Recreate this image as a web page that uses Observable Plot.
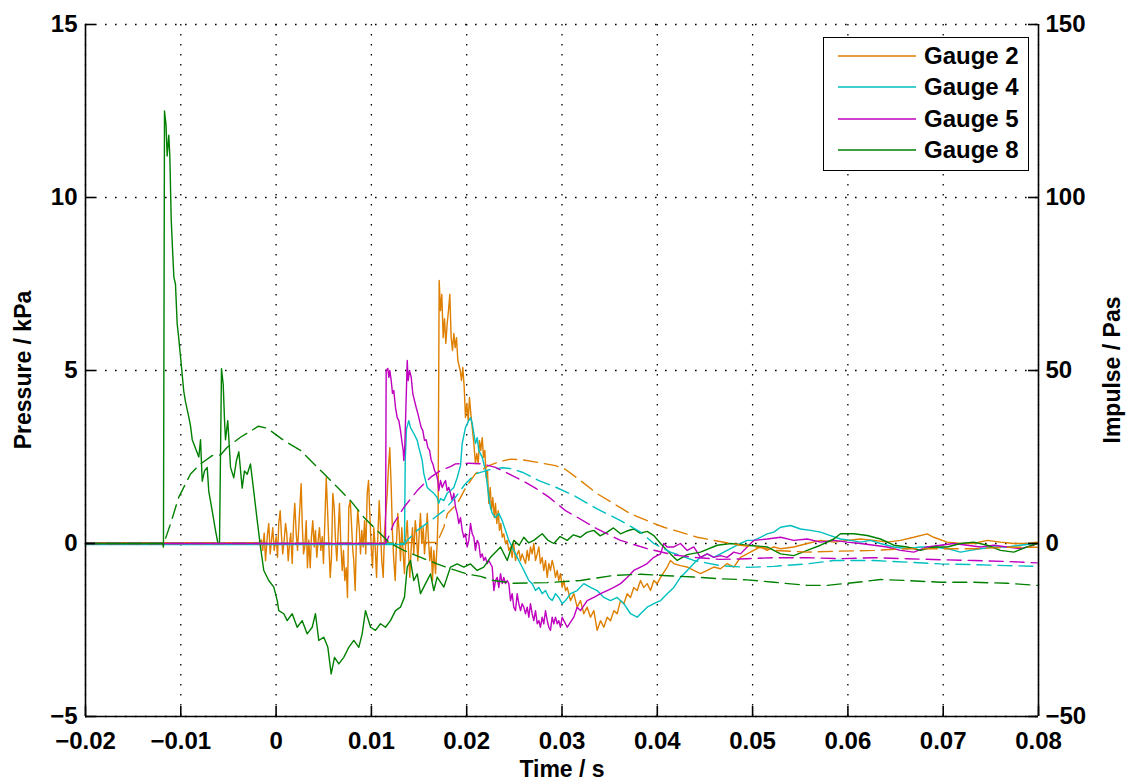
<!DOCTYPE html>
<html>
<head>
<meta charset="utf-8">
<script src="https://cdn.jsdelivr.net/npm/d3@7"></script>
<script src="https://cdn.jsdelivr.net/npm/@observablehq/plot@0.6"></script>
<style>
  body { margin: 0; background: #fff; }
  #wrap { position: relative; width: 1133px; height: 783px; font-family: "Liberation Sans", Arial, Helvetica, sans-serif; }
  #legend { position: absolute; left: 823px; top: 37px; width: 206px; height: 134px; border: 1.6px solid #000; background: #fff; box-sizing: border-box; }
  .lrow { position: absolute; left: 0; width: 100%; height: 30px; }
  .lrow svg { position: absolute; left: 14px; top: 0; }
  .lrow span { position: absolute; left: 100px; top: 1px; font-size: 24px; font-weight: bold; line-height: 28px; color: #000; white-space: nowrap; }
  .ytitle { position: absolute; font-size: 23px; font-weight: bold; line-height: 23px; white-space: nowrap; color: #000; transform: translate(-50%, -50%) rotate(-90deg); }
</style>
</head>
<body>
<div id="wrap"><div id="chart"></div><div id="legend"></div>
  <div class="ytitle" id="ltitle" style="left:23px; top:370px;"></div>
  <div class="ytitle" id="rtitle" style="left:1112px; top:370px;"></div>
</div>
<script>
// ---------- data ----------
const xTicks = [-0.02, -0.01, 0, 0.01, 0.02, 0.03, 0.04, 0.05, 0.06, 0.07, 0.08];
const pressureTicks = [-5, 0, 5, 10, 15];
const impulseTicks = [-50, 0, 50, 100, 150];
const seriesNames = ["Gauge 2", "Gauge 4", "Gauge 5", "Gauge 8"];
const seriesColors = ["#df7f00", "#00bfbf", "#bf00bf", "#008000"];
const xTitle = "Time / s";
const leftTitle = "Pressure / kPa";
const rightTitle = "Impulse / Pas";

// [time s, pressure kPa]
const gauge2Pressure = [[-0.02,0.02],[-0.00184,0.02],[-0.00153,0.1],[-0.0014,-0.2],[-0.00125,0.3],[-0.00111,-0.5],[-0.00093,0.2],[-0.00077,0.58],[-0.00062,-0.3],[-0.00048,0.1],[-0.00035,0.46],[-0.0002,-0.2],[0.00001,0.2],[0.00015,-0.4],[0.00028,0.58],[0.00043,0.95],[0.00057,0.2],[0.0007,-0.3],[0.00085,0.1],[0.00099,0.58],[0.00112,0.3],[0.00127,-0.5],[0.00141,0],[0.00154,0.3],[0.00169,-0.58],[0.00183,0.58],[0.00196,1.16],[0.00211,0.3],[0.00225,-0.2],[0.00238,0.46],[0.00253,1.24],[0.00263,1.73],[0.00274,0.58],[0.00288,-0.3],[0.00301,-0.1],[0.00316,0.66],[0.00329,-0.7],[0.00343,0.1],[0.00358,-0.7],[0.00371,0.2],[0.00385,0.66],[0.004,-0.1],[0.00413,0.38],[0.00427,-0.4],[0.00442,0.1],[0.00455,0.46],[0.00469,-0.2],[0.00484,0.2],[0.00497,-0.58],[0.00511,0.58],[0.00526,1.9],[0.00539,1.04],[0.00553,0],[0.00568,-0.98],[0.00581,-0.4],[0.00595,1.45],[0.0061,1.04],[0.00623,0.1],[0.00637,-0.5],[0.00652,0.38],[0.00665,1.16],[0.00679,0],[0.00694,-0.78],[0.00707,-0.2],[0.00721,-1.07],[0.00736,-0.7],[0.00749,-1.56],[0.00763,1.04],[0.00778,1.24],[0.00791,0.58],[0.00805,-0.2],[0.00815,-0.5],[0.0083,-1.36],[0.00844,0.3],[0.00857,0.95],[0.00872,0.46],[0.00886,-0.3],[0.00899,0.38],[0.00914,-0.1],[0.00928,0.66],[0.00941,-0.3],[0.00956,1.45],[0.0097,1.82],[0.00983,0.87],[0.00998,-0.1],[0.01012,-0.7],[0.01025,0.46],[0.0104,-0.1],[0.01054,-0.98],[0.01067,0.18],[0.01082,1.24],[0.01095,0.46],[0.01109,-0.5],[0.01124,-0.98],[0.01137,0.3],[0.01151,0.87],[0.01166,1.45],[0.01179,2.2],[0.01193,2.77],[0.01208,1.62],[0.01221,0.3],[0.01235,-0.5],[0.0125,-1.07],[0.01263,0],[0.01277,0.87],[0.01292,0.3],[0.01305,-0.5],[0.01319,0.46],[0.01334,-0.3],[0.01347,-0.87],[0.01361,0.18],[0.01376,0.66],[0.01389,-0.2],[0.01403,-0.98],[0.01418,-0.1],[0.01431,0.46],[0.01445,-0.3],[0.0146,0.66],[0.01473,0.3],[0.01487,-0.5],[0.01502,0.3],[0.01515,0.87],[0.01529,0],[0.01544,0.46],[0.01557,-0.3],[0.01571,0.18],[0.01586,0.87],[0.01599,0.1],[0.01613,-0.5],[0.01628,-0.1],[0.01641,-1.07],[0.01655,-0.2],[0.01673,-0.87],[0.0169,0],[0.017,0.87],[0.01711,7.6],[0.01725,6.73],[0.01739,7.2],[0.01753,5.95],[0.01767,6.5],[0.01781,5.78],[0.01795,6.35],[0.01809,6.73],[0.01823,7.2],[0.01837,5.95],[0.01851,5.58],[0.01865,6.07],[0.01879,5.66],[0.01893,5.95],[0.01907,5.29],[0.01932,5.0],[0.01945,4.71],[0.01959,5.09],[0.01974,4.5],[0.01987,3.64],[0.02001,4.05],[0.02016,3.55],[0.02029,4.22],[0.02043,3.76],[0.02058,3.35],[0.02075,2.89],[0.02092,2.31],[0.02106,2.6],[0.02121,2.31],[0.02134,2.98],[0.02148,2.69],[0.02163,3.06],[0.02176,2.49],[0.0219,2.69],[0.02205,1.9],[0.02218,2.11],[0.02232,1.16],[0.02247,1.62],[0.0226,0.95],[0.02274,1.33],[0.02289,0.75],[0.02302,1.16],[0.02316,0.58],[0.02331,0.95],[0.02344,0.38],[0.02358,0.58],[0.02373,0.18],[0.02389,0.28],[0.02407,0],[0.02425,0.09],[0.02442,-0.2],[0.0246,-0.1],[0.02477,-0.4],[0.02494,0],[0.02512,-0.49],[0.0253,-0.3],[0.02547,-0.2],[0.02565,-0.49],[0.02582,-0.3],[0.02617,-0.58],[0.02635,-0.2],[0.02652,-0.49],[0.02669,-0.1],[0.02687,-0.3],[0.02704,0],[0.02722,-0.49],[0.0274,-0.3],[0.02757,-0.1],[0.02774,-0.58],[0.02792,-0.4],[0.02809,-0.78],[0.02827,-0.49],[0.02845,-0.98],[0.02862,-0.58],[0.02879,-0.78],[0.02897,-0.49],[0.02914,-0.68],[0.02932,-0.98],[0.0295,-0.78],[0.02966,-1.07],[0.02984,-0.87],[0.03002,-1.27],[0.03019,-1.07],[0.03037,-1.36],[0.03055,-1.27],[0.03089,-1.65],[0.03124,-1.45],[0.03159,-1.84],[0.03194,-1.65],[0.03229,-2.03],[0.03264,-1.84],[0.03299,-2.13],[0.03334,-1.94],[0.03369,-2.51],[0.03404,-2.23],[0.03439,-2.42],[0.03474,-2.13],[0.03509,-2.23],[0.03544,-1.94],[0.03579,-2.03],[0.03614,-1.65],[0.03649,-1.74],[0.03684,-1.45],[0.03719,-1.56],[0.03753,-1.27],[0.03789,-1.36],[0.03824,-1.07],[0.03858,-1.27],[0.03894,-1.16],[0.03929,-1.36],[0.03963,-1.07],[0.03999,-1.16],[0.04034,-0.98],[0.04104,-0.68],[0.04138,-0.49],[0.04173,-0.58],[0.04243,-0.64],[0.04314,-0.68],[0.04383,-0.78],[0.04453,-0.87],[0.04524,-0.78],[0.04593,-0.68],[0.04663,-0.73],[0.04733,-0.58],[0.04803,-0.68],[0.04873,-0.4],[0.04943,-0.3],[0.05012,-0.2],[0.05083,-0.1],[0.05153,-0.2],[0.05222,-0.1],[0.05293,-0.15],[0.05432,-0.1],[0.05573,0],[0.05713,0.09],[0.05852,0.04],[0.05993,0.09],[0.06132,0.13],[0.06273,0.09],[0.06412,0.04],[0.06552,0.09],[0.06692,0.18],[0.06832,0.28],[0.06901,0.18],[0.07042,0.04],[0.07181,0],[0.07321,0],[0.07462,0.09],[0.07601,0.04],[0.07741,0],[0.07881,0],[0.07986,0.04]];

const gauge4Pressure = [[-0.02,-0.03],[0.01347,-0.03],[0.01355,2.4],[0.01368,3.3],[0.01392,3.55],[0.0141,3.35],[0.01445,3.18],[0.01481,2.98],[0.01498,2.77],[0.01515,2.6],[0.01533,2.4],[0.0155,2.02],[0.01568,1.82],[0.01586,1.62],[0.0162,1.53],[0.01655,1.45],[0.0169,1.33],[0.01707,1.16],[0.01725,1.3],[0.0176,1.24],[0.01795,1.45],[0.0183,1.53],[0.01865,1.62],[0.019,1.9],[0.01935,2.25],[0.01953,2.89],[0.01987,3.35],[0.02022,3.55],[0.0204,3.64],[0.02058,3.47],[0.02075,3.18],[0.02092,2.89],[0.0211,3.06],[0.02127,2.69],[0.02163,2.49],[0.02197,2.11],[0.02215,1.73],[0.02232,1.33],[0.0225,1.04],[0.02268,0.87],[0.02302,0.75],[0.02337,0.87],[0.02373,0.66],[0.02407,0.38],[0.02442,0.09],[0.02477,-0.1],[0.02512,-0.3],[0.02547,-0.49],[0.02582,-0.68],[0.02617,-0.87],[0.02652,-1.07],[0.02687,-1.16],[0.02722,-1.36],[0.02757,-1.27],[0.02792,-1.45],[0.02827,-1.36],[0.02862,-1.56],[0.02897,-1.65],[0.02932,-1.45],[0.02966,-1.56],[0.03002,-1.74],[0.03037,-1.65],[0.03089,-1.45],[0.03159,-1.36],[0.03229,-1.16],[0.03299,-1.27],[0.03369,-1.36],[0.03439,-1.56],[0.03509,-1.65],[0.03579,-1.56],[0.03649,-1.74],[0.03719,-2.03],[0.03789,-2.13],[0.03824,-2.03],[0.03894,-1.84],[0.03963,-1.74],[0.04034,-1.65],[0.04104,-1.45],[0.04173,-1.27],[0.04243,-0.98],[0.04314,-0.78],[0.04383,-0.58],[0.04453,-0.4],[0.04524,-0.3],[0.04593,-0.4],[0.04663,-0.3],[0.04733,-0.2],[0.04803,-0.1],[0.04873,0],[0.04943,0.09],[0.05012,0.09],[0.05083,0.18],[0.05153,0.28],[0.05222,0.33],[0.05293,0.47],[0.05398,0.52],[0.05503,0.42],[0.05608,0.38],[0.05713,0.33],[0.05817,0.23],[0.05922,0.13],[0.06027,0.09],[0.06132,0.04],[0.06237,0.09],[0.06342,0],[0.06482,-0.1],[0.06622,-0.15],[0.06762,-0.1],[0.06901,-0.1],[0.07042,-0.15],[0.07181,-0.25],[0.07286,-0.2],[0.07391,-0.15],[0.07531,-0.1],[0.07672,-0.1],[0.07811,-0.05],[0.07951,0]];

const gauge5Pressure = [[-0.02,0],[0.01148,0],[0.01155,5.0],[0.01172,5.06],[0.01183,4.8],[0.01193,5.0],[0.01208,4.71],[0.01221,4.34],[0.01235,4.42],[0.01253,3.93],[0.01271,3.64],[0.01288,3.55],[0.01305,3.27],[0.01323,2.89],[0.01334,2.69],[0.0134,2.4],[0.0135,2.77],[0.01368,4.5],[0.01376,5.29],[0.01386,4.71],[0.014,5.0],[0.01418,4.8],[0.01434,4.34],[0.01452,4.13],[0.0147,3.93],[0.01487,3.76],[0.01505,3.55],[0.01523,3.35],[0.01539,3.27],[0.01557,2.98],[0.01575,3.0],[0.01592,2.77],[0.0161,2.69],[0.01628,2.4],[0.01644,2.31],[0.01662,2.11],[0.0168,2.02],[0.01697,1.82],[0.01707,1.53],[0.01725,1.82],[0.01743,1.62],[0.0176,1.73],[0.01778,1.82],[0.01795,1.53],[0.01812,1.62],[0.0183,1.45],[0.01848,1.24],[0.01865,1.45],[0.01883,1.04],[0.019,0.87],[0.01917,0.58],[0.01935,0.75],[0.01953,0.38],[0.0197,0.18],[0.01987,0.28],[0.02005,-0.1],[0.02022,0.09],[0.0204,0.58],[0.02058,0.28],[0.02075,0.18],[0.02092,-0.2],[0.0211,0.09],[0.02127,0],[0.02145,-0.4],[0.02163,-0.3],[0.0218,-0.49],[0.02197,-0.4],[0.02215,-0.58],[0.02232,-0.49],[0.02268,-0.68],[0.02285,-1.36],[0.02302,-1.07],[0.0232,-0.98],[0.02337,-1.27],[0.02355,-0.87],[0.02373,-1.16],[0.02389,-0.98],[0.02407,-1.16],[0.02425,-1.07],[0.02442,-1.16],[0.0246,-1.65],[0.02477,-1.45],[0.02494,-1.84],[0.02512,-1.94],[0.0253,-1.45],[0.02547,-1.74],[0.02565,-1.94],[0.02582,-1.74],[0.02599,-1.84],[0.02617,-2.03],[0.02635,-1.84],[0.02652,-2.13],[0.02669,-1.74],[0.02687,-2.03],[0.02704,-2.23],[0.02722,-1.94],[0.0274,-2.32],[0.02757,-2.23],[0.02774,-2.42],[0.02792,-2.13],[0.02809,-2.32],[0.02827,-1.94],[0.02845,-2.23],[0.02862,-2.42],[0.02879,-2.51],[0.02897,-2.13],[0.02914,-2.32],[0.02932,-2.13],[0.0295,-2.32],[0.02966,-2.23],[0.02984,-2.42],[0.03002,-2.13],[0.03019,-2.23],[0.03055,-2.42],[0.03124,-2.13],[0.03159,-1.84],[0.03194,-1.94],[0.03264,-1.65],[0.03334,-1.56],[0.03404,-1.45],[0.03474,-1.36],[0.03544,-1.27],[0.03614,-1.16],[0.03684,-0.98],[0.03753,-0.78],[0.03824,-0.68],[0.03894,-0.58],[0.03963,-0.4],[0.04034,-0.3],[0.04068,0],[0.04104,-0.1],[0.04173,-0.1],[0.04243,0],[0.04314,-0.2],[0.04383,-0.1],[0.04453,-0.4],[0.04524,-0.3],[0.04593,-0.4],[0.04663,-0.35],[0.04733,-0.4],[0.04803,-0.25],[0.04873,-0.3],[0.04943,-0.1],[0.05012,0.09],[0.05153,0.13],[0.05293,0.18],[0.05432,0.09],[0.05573,0.13],[0.05713,0.04],[0.05852,0.09],[0.05993,0.04],[0.06132,0],[0.06273,-0.05],[0.06412,-0.1],[0.06552,-0.2],[0.06692,-0.25],[0.06832,-0.1],[0.06972,-0.05],[0.07111,0],[0.07251,-0.05],[0.07391,-0.1],[0.07531,-0.05],[0.07672,-0.1],[0.07811,-0.15],[0.07951,-0.05]];

const gauge8Pressure = [[-0.02,0],[-0.01192,0],[-0.01182,-0.1],[-0.01171,12.5],[-0.01155,12.1],[-0.01143,11.2],[-0.01126,11.8],[-0.01115,11.2],[-0.01101,9.4],[-0.0109,8.7],[-0.01073,7.7],[-0.01056,7.5],[-0.01038,6.35],[-0.01024,6.0],[-0.01003,5.4],[-0.00969,4.4],[-0.00951,4.1],[-0.00916,3.65],[-0.00898,3.4],[-0.0088,3.0],[-0.00846,2.75],[-0.00811,2.5],[-0.00793,3.0],[-0.00775,1.8],[-0.00751,2.1],[-0.00723,2.2],[-0.00706,1.5],[-0.00671,0.95],[-0.00636,0.38],[-0.0061,0],[-0.00594,0],[-0.00573,5.05],[-0.00555,4.6],[-0.00541,3.55],[-0.00531,3.0],[-0.00507,3.55],[-0.00478,2.2],[-0.00444,1.9],[-0.00416,2.4],[-0.00391,2.65],[-0.00356,1.6],[-0.00332,2.1],[-0.00303,2.0],[-0.00269,2.3],[-0.00234,1.5],[-0.00198,0.66],[-0.00164,-0.1],[-0.00129,-0.78],[-0.00077,-1.07],[-0.00024,-1.26],[0.00012,-1.65],[0.00028,-1.94],[0.00081,-2.03],[0.00116,-2.23],[0.00169,-2.03],[0.00221,-2.42],[0.00274,-2.23],[0.00326,-2.61],[0.00379,-2.42],[0.00413,-2.03],[0.00448,-2.8],[0.00501,-2.71],[0.00543,-3.0],[0.00578,-3.77],[0.00613,-3.29],[0.00658,-3.48],[0.0071,-3.29],[0.00763,-3.0],[0.00815,-2.8],[0.00868,-3.0],[0.00903,-2.61],[0.00938,-1.94],[0.00991,-2.42],[0.01043,-2.51],[0.01095,-2.32],[0.01148,-2.42],[0.012,-2.23],[0.01253,-1.94],[0.01305,-1.84],[0.01347,-1.55],[0.01376,-0.68],[0.0141,-0.49],[0.01445,-1.07],[0.01481,-0.88],[0.01515,-1.45],[0.01568,-1.16],[0.0162,-0.88],[0.01655,-1.36],[0.0169,-0.97],[0.0176,-1.26],[0.0183,-0.68],[0.019,-0.59],[0.0197,-0.68],[0.0204,-0.59],[0.0211,-0.78],[0.02179,-0.68],[0.0225,-0.4],[0.0232,-0.2],[0.02355,-0.1],[0.02425,-0.49],[0.02494,0.09],[0.0255,-0.05],[0.02599,0.18],[0.0265,0.02],[0.02704,0.09],[0.02792,0.28],[0.0285,0.1],[0.02914,0],[0.0298,0.2],[0.03055,0.09],[0.0312,0.25],[0.03194,0.18],[0.0326,0.32],[0.03334,0.38],[0.034,0.22],[0.03474,0.33],[0.0354,0.45],[0.03614,0.28],[0.0368,0.36],[0.03753,0.42],[0.0382,0.3],[0.03894,0.35],[0.03963,0.23],[0.04034,0],[0.04138,-0.3],[0.04209,-0.49],[0.04314,-0.32],[0.04453,-0.25],[0.04629,-0.05],[0.04768,0],[0.04943,-0.05],[0.05153,-0.1],[0.05293,-0.3],[0.05432,-0.35],[0.05573,-0.2],[0.05713,-0.05],[0.05852,0.13],[0.05922,0.28],[0.06062,0.28],[0.06203,0.23],[0.06342,0.13],[0.06482,-0.05],[0.06622,-0.1],[0.06762,-0.2],[0.06901,-0.1],[0.07042,-0.1],[0.07181,0],[0.07321,0.04],[0.07462,-0.05],[0.07601,-0.2],[0.07741,-0.25],[0.07881,-0.1],[0.07989,0]];

// [time s, impulse Pa s]
const gauge2Impulse = [[-0.02,0],[-0.00184,0],[0.0169,0.3],[0.0176,4.7],[0.01799,8.7],[0.019,11.5],[0.01987,16.0],[0.02092,20.2],[0.02232,22.5],[0.02337,23.6],[0.0246,24.4],[0.02582,24.2],[0.02774,23.3],[0.02932,22.5],[0.03037,21.4],[0.03194,18.2],[0.03369,14.4],[0.03544,11.5],[0.03719,8.6],[0.03894,6.6],[0.04068,4.7],[0.04243,3.3],[0.04419,1.8],[0.04593,0.9],[0.04873,-0.5],[0.05118,-1.3],[0.05222,-2.0],[0.05573,-2.5],[0.05922,-2.2],[0.06273,-2.0],[0.06622,-1.5],[0.06972,-1.5],[0.07321,-1.5],[0.07672,-1.1],[0.07986,-1.1]];

const gauge4Impulse = [[-0.02,0],[0.01347,0],[0.01376,0.9],[0.01481,3.8],[0.0162,6.6],[0.0176,9.5],[0.01883,13.4],[0.01987,17.3],[0.02092,20.1],[0.02232,21.3],[0.02373,21.9],[0.02477,21.6],[0.02582,20.6],[0.02757,18.2],[0.02932,16.3],[0.03124,13.9],[0.03369,10.0],[0.03614,6.6],[0.03824,3.3],[0.03963,0],[0.04138,-2.5],[0.04383,-4.9],[0.04663,-6.4],[0.04943,-6.9],[0.05222,-6.6],[0.05573,-5.9],[0.05852,-4.9],[0.06273,-4.9],[0.06622,-5.4],[0.06972,-5.9],[0.07321,-6.1],[0.07672,-6.4],[0.07986,-6.6]];

const gauge5Impulse = [[-0.02,0],[0.01148,0],[0.01166,0.9],[0.01235,5.8],[0.0134,10.4],[0.01481,15.3],[0.0162,19.1],[0.01725,21.1],[0.0183,22.2],[0.01883,23.0],[0.02022,23.2],[0.02163,23.0],[0.02302,22.0],[0.02442,20.1],[0.02582,18.2],[0.02722,16.0],[0.02862,13.4],[0.03037,9.5],[0.03159,7.6],[0.03369,4.2],[0.03614,0.9],[0.03894,-1.5],[0.04173,-3.3],[0.04383,-4.0],[0.04663,-4.6],[0.04943,-4.4],[0.05222,-4.1],[0.05573,-4.1],[0.05922,-4.4],[0.06273,-4.1],[0.06622,-4.4],[0.06972,-4.7],[0.07321,-4.9],[0.07672,-5.2],[0.07986,-5.6]];

const gauge8Impulse = [[-0.02,0],[-0.01178,0],[-0.01108,5.7],[-0.01021,13.4],[-0.00898,20.1],[-0.00793,23.0],[-0.00671,25.4],[-0.00583,25.6],[-0.00513,27.8],[-0.00374,30.7],[-0.00185,33.9],[-0.00093,33.3],[0.00081,29.8],[0.00256,26.9],[0.00431,22.1],[0.00536,19.2],[0.00641,16.3],[0.00781,12.4],[0.0092,7.6],[0.01095,2.8],[0.012,0],[0.0134,-2.0],[0.0155,-4.4],[0.0169,-5.9],[0.0183,-7.3],[0.02005,-8.8],[0.02145,-9.5],[0.02284,-10.7],[0.02494,-11.5],[0.02845,-11.3],[0.03194,-10.7],[0.03544,-9.2],[0.03824,-8.9],[0.04104,-9.3],[0.04383,-9.7],[0.04663,-10.2],[0.04943,-10.5],[0.05222,-11.2],[0.05573,-12.1],[0.05783,-12.1],[0.06098,-11.2],[0.06342,-10.4],[0.06622,-10.7],[0.06972,-11.2],[0.07321,-11.2],[0.07672,-11.5],[0.07986,-12.1]];

// ---------- chart ----------
const W = 1133, H = 783, mL = 85, mR = 95, mT = 24, mB = 67;
const xDomain = [xTicks[0], xTicks[xTicks.length - 1]];
const pressureDomain = [pressureTicks[0], pressureTicks[pressureTicks.length - 1]];
const impulseDomain = [impulseTicks[0], impulseTicks[impulseTicks.length - 1]];
const k = (impulseDomain[1] - impulseDomain[0]) / (pressureDomain[1] - pressureDomain[0]); // impulse units per kPa
const toP = v => pressureDomain[0] + (v - impulseDomain[0]) / k;

// tick length: 10 px expressed in each scale's units
const tickPx = 10;
const tickX = (xDomain[1] - xDomain[0]) * tickPx / (W - mL - mR);
const tickY = (pressureDomain[1] - pressureDomain[0]) * tickPx / (H - mT - mB);

const minus = s => s.replace("-", "\u2212");
const fmt = d => minus(String(+d.toFixed(2)));

const pressureSeries = [gauge2Pressure, gauge4Pressure, gauge5Pressure, gauge8Pressure];
const impulseSeries = [gauge2Impulse, gauge4Impulse, gauge5Impulse, gauge8Impulse];

const font = "Liberation Sans, Arial, Helvetica, sans-serif";
const dotted = "1.6,8.4";
const labelStyle = { fontSize: 24, fontWeight: "bold", label: null };

const chart = Plot.plot({
  width: W,
  height: H,
  marginLeft: mL,
  marginRight: mR,
  marginTop: mT,
  marginBottom: mB,
  style: { fontFamily: font, fontSize: "24px", fontWeight: "bold", background: "#fff", overflow: "visible" },
  x: { domain: xDomain },
  y: { domain: pressureDomain },
  marks: [
    // dotted grid
    Plot.ruleX(xTicks, { stroke: "#000", strokeWidth: 1.3, strokeDasharray: dotted }),
    Plot.ruleY(pressureTicks, { stroke: "#000", strokeWidth: 1.3, strokeDasharray: dotted }),
    // pressure lines (left axis)
    ...pressureSeries.map((s, i) => Plot.line(s, { x: d => d[0], y: d => d[1], stroke: seriesColors[i], strokeWidth: 1.4 })),
    // impulse lines (right axis)
    ...impulseSeries.map((s, i) => Plot.line(s, { x: d => d[0], y: d => toP(d[1]), stroke: seriesColors[i], strokeWidth: 1.4, strokeDasharray: "14,7" })),
    // axis lines
    Plot.ruleX(xDomain, { stroke: "#000", strokeWidth: 1.6 }),
    Plot.ruleY([pressureDomain[0]], { stroke: "#000", strokeWidth: 1.6 }),
    // inward ticks
    Plot.ruleX(xTicks, { y1: pressureDomain[0], y2: pressureDomain[0] + tickY, stroke: "#000", strokeWidth: 1.6 }),
    Plot.ruleY(pressureTicks, { x1: xDomain[0], x2: xDomain[0] + tickX, stroke: "#000", strokeWidth: 1.6 }),
    Plot.ruleY(impulseTicks.map(toP), { x1: xDomain[1] - tickX, x2: xDomain[1], stroke: "#000", strokeWidth: 1.6 }),
    // tick labels
    Plot.axisX(xTicks, { anchor: "bottom", tickSize: 0, tickPadding: 15, tickFormat: fmt, ...labelStyle }),
    Plot.axisY(pressureTicks, { anchor: "left", tickSize: 0, tickPadding: 8, tickFormat: fmt, ...labelStyle }),
    Plot.axisY(impulseTicks.map(toP), { anchor: "right", tickSize: 0, tickPadding: 7, tickFormat: d => fmt((d - pressureDomain[0]) * k + impulseDomain[0]), ...labelStyle }),
    // x axis title
    Plot.text([xTitle], { text: d => d, frameAnchor: "bottom", dy: 60, fontSize: 23, fontWeight: "bold", fill: "#000" })
  ]
});
document.getElementById("chart").appendChild(chart);
document.getElementById("ltitle").textContent = leftTitle;
document.getElementById("rtitle").textContent = rightTitle;

// legend
const legend = document.getElementById("legend");
seriesNames.forEach((name, i) => {
  const row = document.createElement("div");
  row.className = "lrow";
  row.style.top = (3 + i * 31.3) + "px";
  row.innerHTML = `<svg width="80" height="30"><line x1="0" x2="78" y1="15" y2="15" stroke="${seriesColors[i]}" stroke-width="1.6"/></svg><span>${name}</span>`;
  legend.appendChild(row);
});
</script>
</body>
</html>
